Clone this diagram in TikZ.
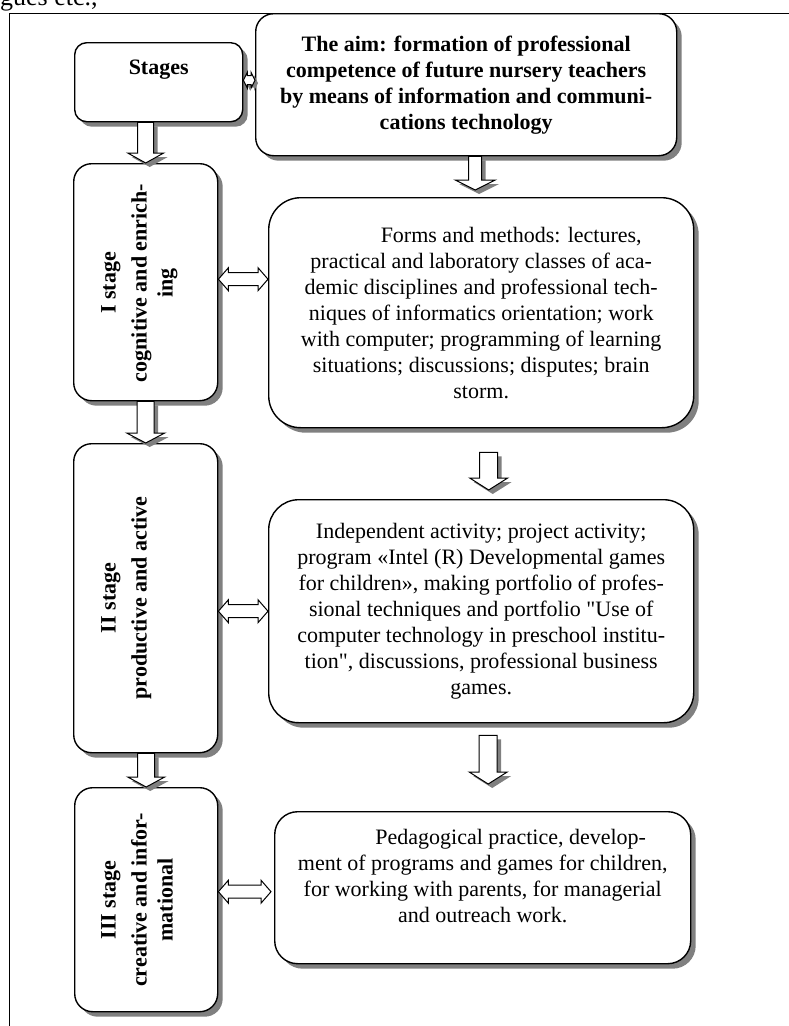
\documentclass[tikz,border=0pt]{standalone}
\usepackage{fontspec}
\setmainfont{Liberation Serif}[Ligatures=TeXOff]
\usetikzlibrary{shadows,calc}

% vertical hollow block arrow: start, tip, shaft half width, head half width, head length
\newcommand\varrow[5]{%
  \fill[black!50] let \p1=#1, \p2=#2 in
    (\x1-#3+4pt,\y1-4pt) -- (\x1+#3+4pt,\y1-4pt) -- (\x1+#3+4pt,\y2+#5-4pt)
    -- (\x1+#4+4pt,\y2+#5-4pt) -- (\x1+4pt,\y2-4pt) -- (\x1-#4+4pt,\y2+#5-4pt)
    -- (\x1-#3+4pt,\y2+#5-4pt) -- cycle;
  \draw[line width=1pt, fill=white] let \p1=#1, \p2=#2 in
    (\x1-#3,\y1) -- (\x1+#3,\y1) -- (\x1+#3,\y2+#5) -- (\x1+#4,\y2+#5)
    -- (\x1,\y2) -- (\x1-#4,\y2+#5) -- (\x1-#3,\y2+#5) -- cycle;
}
% horizontal hollow double arrow: left tip, right tip, shaft half, head half, head length, style
\newcommand\harrow[6]{%
  \path[#6] let \p1=#1, \p2=#2 in
    (\x1,\y1) -- (\x1+#5,\y1+#4) -- (\x1+#5,\y1+#3) -- (\x2-#5,\y1+#3)
    -- (\x2-#5,\y1+#4) -- (\x2,\y1) -- (\x2-#5,\y1-#4) -- (\x2-#5,\y1-#3)
    -- (\x1+#5,\y1-#3) -- (\x1+#5,\y1-#4) -- cycle;
}

\begin{document}
\begin{tikzpicture}[x=1pt,y=-1pt,
  every node/.style={inner sep=0pt},
  box/.style={draw, line width=1.4pt, fill=white, rounded corners=#1,
    anchor=north west,
    drop shadow={shadow xshift=5pt, shadow yshift=-5pt, fill=black!50, opacity=1}},
  body/.style={font=\fontsize{22}{26}\selectfont, align=center},
  bold/.style={font=\fontsize{22}{26}\selectfont\bfseries, align=center},
  vtext/.style={bold, rotate=90, anchor=north},
  arrowline/.style={draw, line width=1pt, fill=white},
  arrowshade/.style={fill=black!50, draw=none},
]
\useasboundingbox (0,0) rectangle (789,1026);

\node[anchor=base west, font=\fontsize{26}{30}\selectfont] (prev) at (0,5) {gues etc.,};
\draw[line width=1pt] (789,13) -- (9,13) -- (9,1026);

% boxes
\node[box=12pt, minimum width=168pt, minimum height=79pt, bold, text depth=30pt] (stages) at (74,42) {Stages};
\node[box=18pt, minimum width=421pt, minimum height=142pt, bold] (aim) at (255,13)
  {The aim: formation of professional\\competence of future nursery teachers\\by means of information and communi-\\cations technology};

\node[box=18pt, minimum width=144pt, minimum height=237pt] (s1) at (73,163) {};
\node[vtext] (s1t) at (101,283) {I stage\\[5pt]cognitive and enrich-\\ing};
\node[box=18pt, minimum width=144pt, minimum height=309pt] (s2) at (73,443) {};
\node[vtext] (s2t) at (101,598) {II stage\\[5pt]productive and active};
\node[box=18pt, minimum width=143pt, minimum height=224pt] (s3) at (74,787) {};
\node[vtext] (s3t) at (101,900) {III stage\\[5pt]creative and infor-\\mational};

\node[box=32pt, minimum width=425pt, minimum height=230pt, body] (forms) at (268,197)
  {\hspace*{60pt}Forms and methods: lectures,\\practical and laboratory classes of aca-\\demic disciplines and professional tech-\\niques of informatics orientation; work\\with computer; programming of learning\\situations; discussions; disputes; brain\\storm.};
\node[box=30pt, minimum width=425pt, minimum height=223pt, body] (indep) at (268,499)
  {Independent activity; project activity;\\program «Intel (R) Developmental games\\for children», making portfolio of profes-\\sional techniques and portfolio "Use of\\computer technology in preschool institu-\\tion", discussions, professional business\\games.};
\node[box=23pt, minimum width=416pt, minimum height=152pt, body, text depth=24pt] (ped) at (274,811)
  {\hspace*{56pt}Pedagogical practice, develop-\\ment of programs and games for children,\\for working with parents, for managerial\\and outreach work.};

% vertical block arrows
\varrow{(s1.north |- stages.south)}{(s1.north)}{8pt}{18pt}{10pt}
\varrow{(s2.north |- s1.south)}{(s2.north)}{8.5pt}{19pt}{10pt}
\varrow{(s3.north |- s2.south)}{(s3.north)}{8.5pt}{18.5pt}{10pt}
\varrow{($(aim.south)+(9,0)$)}{($(aim.south |- forms.north)+(9,-7)$)}{6.5pt}{20pt}{10pt}
\varrow{($(forms.south)+(7.5,24)$)}{($(forms.south |- indep.north)+(7.5,-9)$)}{9pt}{19pt}{12pt}
\varrow{($(indep.south)+(7,12)$)}{($(indep.south |- ped.north)+(7,-27)$)}{9pt}{19pt}{12pt}

% horizontal double arrows
\harrow{($(stages.east)+(3,1)$)}{($(aim.west |- stages.east)+(3,1)$)}{4.5pt}{8pt}{4pt}{arrowshade}
\harrow{($(stages.east)+(0,-2)$)}{($(aim.west |- stages.east)+(0,-2)$)}{4.5pt}{8pt}{4pt}{arrowline}
\harrow{($(s1.east)+(0,-3)$)}{($(forms.west |- s1.east)+(0,-3)$)}{6.5pt}{11.5pt}{10pt}{arrowline}
\harrow{(s2.east |- indep.west)}{(indep.west)}{6.5pt}{11.5pt}{10pt}{arrowline}
\harrow{($(s3.east)+(0,-8)$)}{($(ped.west |- s3.east)+(-3,-8)$)}{6.5pt}{11.5pt}{10pt}{arrowline}
\end{tikzpicture}
\end{document}
